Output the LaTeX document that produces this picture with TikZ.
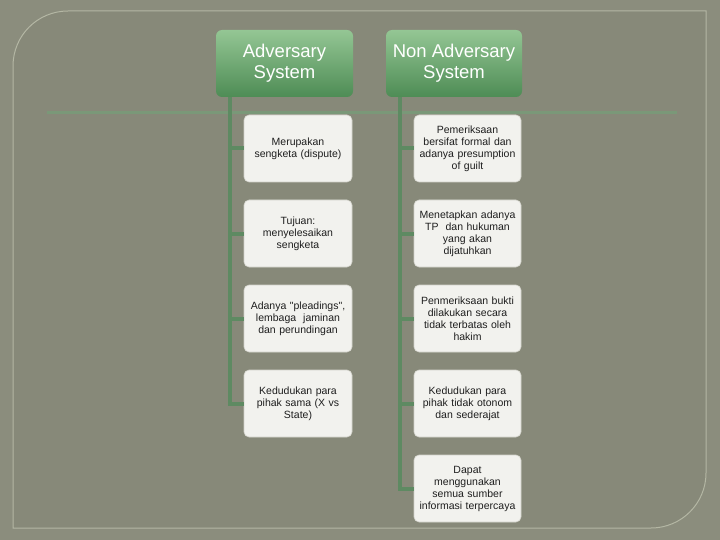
\documentclass[tikz,border=0pt]{standalone}
\usepackage{fontspec}
\setmainfont{Liberation Sans}[Ligatures=TeXOff]
\definecolor{outerbg}{HTML}{8B8D7D}
\definecolor{innerbg}{HTML}{878979}
\definecolor{panelline}{HTML}{B4B7A4}
\definecolor{hline}{HTML}{7A9878}
\definecolor{connc}{HTML}{5E8A62}
\definecolor{hdrtop}{HTML}{94C694}
\definecolor{hdrbot}{HTML}{4E8C55}
\definecolor{boxfill}{HTML}{F2F2EE}
\definecolor{boxline}{HTML}{D2D2CA}
\definecolor{txt}{HTML}{1E1E1E}
\tikzset{
  hdr/.style={rounded corners=6pt, top color=hdrtop, bottom color=hdrbot,
    minimum height=67pt, inner sep=2pt, align=center, text=white,
    font=\fontsize{18.5}{21}\selectfont},
  leaf/.style={rounded corners=5pt, fill=boxfill, draw=boxline, line width=0.6pt,
    minimum width=108pt, minimum height=67pt, text width=102pt, inner sep=2pt,
    align=center, text=txt, font=\fontsize{10.5}{12}\selectfont},
  conn/.style={draw=connc, line width=4pt},
}
\begin{document}
\begin{tikzpicture}[x=1pt,y=-1pt]
\useasboundingbox (0,0) rectangle (720,540);
\fill[outerbg] (0,0) rectangle (720,540);
\filldraw[fill=innerbg, draw=panelline, line width=1pt]
  (13,528) -- (13,66) .. controls (13,35.6) and (37.6,11) .. (68,11)
  -- (706,11) -- (706,473) .. controls (706,503.4) and (681.4,528) .. (651,528) -- cycle;
\draw[hline, line width=3pt] (47,113) -- (677,113);

\node[hdr, minimum width=137pt] (A) at (284.5,63.5) {Adversary\\System};
\node[hdr, minimum width=136pt] (B) at (454,63.5) {Non Adversary\\System};

\node[leaf] (L1) at (298,148.5) {Merupakan\\sengketa (dispute)};
\node[leaf] (L2) at (298,233.5) {Tujuan:\\menyelesaikan\\sengketa};
\node[leaf] (L3) at (298,318.5) {Adanya "pleadings",\\lembaga \ jaminan\\dan perundingan};
\node[leaf] (L4) at (298,403.5) {Kedudukan para\\pihak sama (X vs\\State)};

\node[leaf, minimum width=107pt] (R1) at (467.5,148.5) {Pemeriksaan\\bersifat formal dan\\adanya presumption\\of guilt};
\node[leaf, minimum width=107pt] (R2) at (467.5,233.5) {Menetapkan adanya\\TP \ dan hukuman\\yang akan\\dijatuhkan};
\node[leaf, minimum width=107pt] (R3) at (467.5,318.5) {Penmeriksaan bukti\\dilakukan secara\\tidak terbatas oleh\\hakim};
\node[leaf, minimum width=107pt] (R4) at (467.5,403.5) {Kedudukan para\\pihak tidak otonom\\dan sederajat};
\node[leaf, minimum width=107pt] (R5) at (467.5,488.5) {Dapat\\menggunakan\\semua sumber\\informasi terpercaya};

\foreach \n in {L1,L2,L3,L4}
  \draw[conn] ([xshift=14pt]A.south west) |- (\n.west);
\foreach \n in {R1,R2,R3,R4,R5}
  \draw[conn] ([xshift=14pt]B.south west) |- (\n.west);
\end{tikzpicture}
\end{document}
